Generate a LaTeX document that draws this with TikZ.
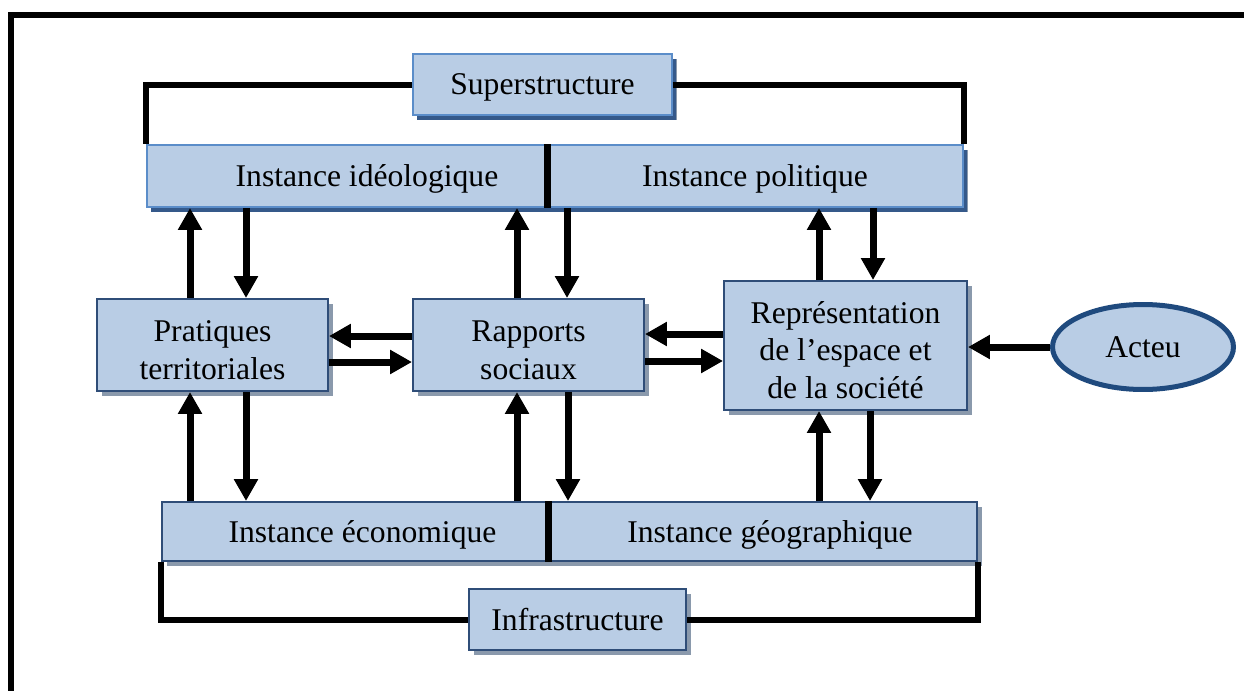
\documentclass[tikz,border=0pt]{standalone}
\usepackage{fontspec}
\setmainfont{Liberation Serif}
\usepackage{tikz}
\usetikzlibrary{arrows.meta,shadows,shapes.geometric}
\usepackage{xcolor}
\definecolor{PaleSteel}{HTML}{B9CDE5}
\definecolor{CornEdge}{HTML}{5B8DC9}
\definecolor{DeepEdge}{HTML}{2F4D78}
\definecolor{NavyShade}{HTML}{35598A}
\definecolor{GreyShade}{HTML}{8A99AC}
\definecolor{ActeurEdge}{HTML}{1F4A7E}
\newcommand{\lowstrut}{\rule{0pt}{17.5pt}}

\begin{document}
\begin{tikzpicture}[x=0.02cm,y=-0.02cm,
    box/.style={draw=DeepEdge,line width=0.04cm,fill=PaleSteel,inner sep=0pt,align=center,
      font=\fontsize{18}{21.5}\selectfont,text depth=0pt,
      drop shadow={shadow xshift=0.1cm,shadow yshift=-0.1cm,fill=GreyShade,opacity=1}},
    topbox/.style={box,draw=CornEdge,
      drop shadow={shadow xshift=0.08cm,shadow yshift=-0.1cm,fill=NavyShade,opacity=1}},
    arr/.style={line width=0.14cm,-{Triangle[width=0.46cm,length=0.44cm]}},
    bracket/.style={line width=0.12cm},
    divider/.style={line width=0.14cm}]
    \useasboundingbox (0,0) rectangle (1244,690);

    % frame
    \draw[line width=0.12cm] (11,700) |- (1260,15);

    % superstructure
    \node[topbox,minimum width=5.18cm,minimum height=1.22cm] (sup) at (542.5,84.5) {Superstructure};
    \node[topbox,minimum width=8cm,minimum height=1.24cm] (ideo) at (347,176) {\hspace{0.8cm}Instance idéologique};
    \node[topbox,minimum width=8.32cm,minimum height=1.24cm] (poli) at (755,176) {Instance politique};
    \draw[divider] (ideo.north east) -- (ideo.south east);
    \draw[bracket] (sup.west) -| (ideo.north west);
    \draw[bracket] (sup.east) -| (poli.north east);

    % middle row
    \node[box,minimum width=4.62cm,minimum height=1.84cm] (prat) at (212.5,345) {\lowstrut Pratiques\\territoriales};
    \node[box,minimum width=4.62cm,minimum height=1.84cm] (rapp) at (528.5,345) {\lowstrut Rapports\\sociaux};
    \node[box,minimum width=4.86cm,minimum height=2.58cm] (repr) at (845.5,345.5) {\lowstrut Représentation\\de l’espace et\\de la société};
    \node[ellipse,draw=ActeurEdge,line width=0.1cm,fill=PaleSteel,minimum width=3.62cm,minimum height=1.7cm,
      font=\fontsize{18}{21.5}\selectfont] (act) at (1143,347) {Acteu};

    % infrastructure
    \node[box,minimum width=7.72cm,minimum height=1.18cm] (eco) at (355,531.5) {\hspace{0.3cm}Instance économique};
    \node[box,minimum width=8.58cm,minimum height=1.18cm] (geo) at (762.5,531.5) {\hspace{0.3cm}Instance géographique};
    \node[box,minimum width=4.34cm,minimum height=1.22cm] (infra) at (577.5,619.5) {Infrastructure};
    \draw[divider] (eco.north east) -- (eco.south east);
    \draw[bracket] (eco.south west) |- (infra.west);
    \draw[bracket] (geo.south east) |- (infra.east);

    % vertical links
    \draw[arr] (prat.north -| 190,0) -- (ideo.south -| 190,0);
    \draw[arr] (ideo.south -| 246,0) -- (prat.north -| 246,0);
    \draw[arr] (eco.north -| 190,0) -- (prat.south -| 190,0);
    \draw[arr] (prat.south -| 246,0) -- (eco.north -| 246,0);
    \draw[arr] (rapp.north -| 517,0) -- (ideo.south -| 517,0);
    \draw[arr] (poli.south -| 567,0) -- (rapp.north -| 567,0);
    \draw[arr] (eco.north -| 517,0) -- (rapp.south -| 517,0);
    \draw[arr] (rapp.south -| 568,0) -- (geo.north -| 568,0);
    \draw[arr] (repr.north -| 819,0) -- (poli.south -| 819,0);
    \draw[arr] (poli.south -| 873,0) -- (repr.north -| 873,0);
    \draw[arr] (geo.north -| 819,0) -- (repr.south -| 819,0);
    \draw[arr] (repr.south -| 870,0) -- (geo.north -| 870,0);

    % horizontal links
    \draw[arr] (rapp.west |- 0,336) -- (prat.east |- 0,336);
    \draw[arr] (prat.east |- 0,362) -- (rapp.west |- 0,362);
    \draw[arr] (repr.west |- 0,334) -- (rapp.east |- 0,334);
    \draw[arr] (rapp.east |- 0,361) -- (repr.west |- 0,361);
    \draw[arr] (act.west) -- (repr.east |- act.west);
\end{tikzpicture}
\end{document}
